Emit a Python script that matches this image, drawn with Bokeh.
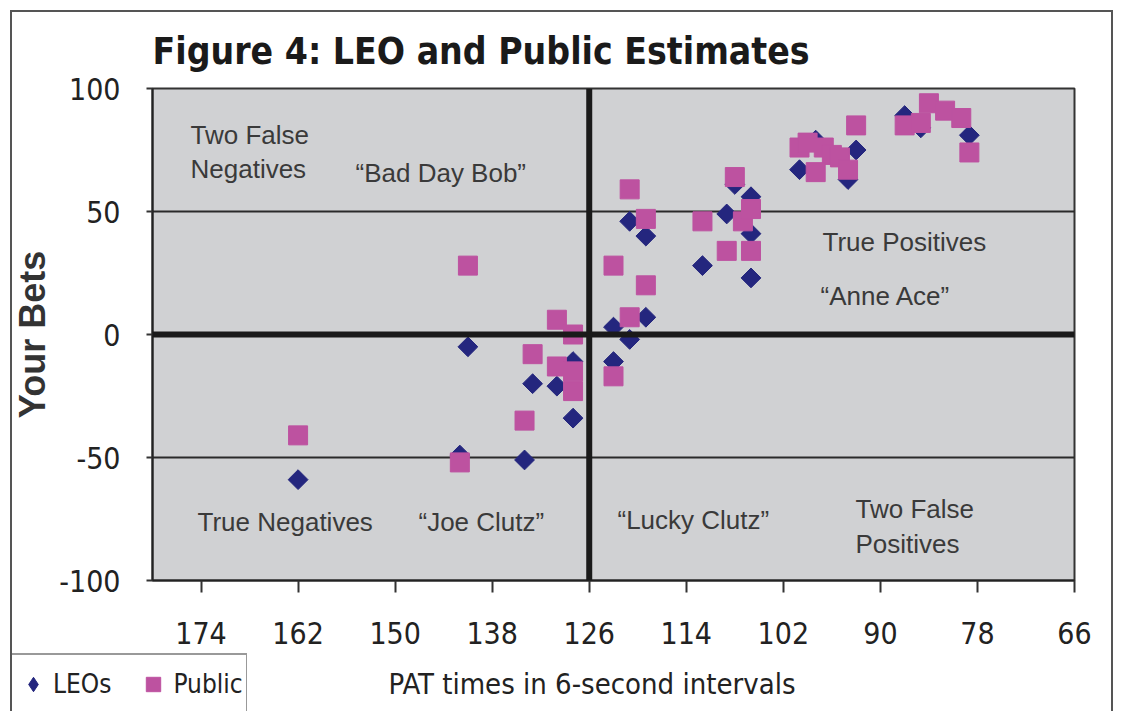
import math
from bokeh.plotting import figure
from bokeh.layouts import column, row
from bokeh.models import (Range1d, FixedTicker, Span, Label, Legend, LegendItem,
                          PrintfTickFormatter)
from bokeh.embed import file_html
from bokeh.resources import INLINE

# ---------------- data ----------------
leo_x = [162, 141, 142, 134, 133, 130, 128, 128, 123, 123, 121, 119, 121, 119,
         112, 109, 108, 106, 106, 106, 100, 98, 94, 93, 87, 85, 79]
leo_y = [-59, -5, -49, -51, -20, -21, -11, -34, 3, -11, -2, 7, 46, 40,
         28, 49, 61, 56, 41, 23, 67, 79, 63, 75, 89, 84, 81]

pub_x = [162, 141, 142, 134, 133, 130, 130, 128, 128, 128, 123, 123, 121, 121,
         119, 119, 112, 109, 108, 107, 106, 106, 100, 99, 97, 96, 98, 95, 94,
         93, 87, 85, 84, 82, 80, 79]
pub_y = [-41, 28, -52, -35, -8, 6, -13, 0, -15, -23, -17, 28, 7, 59,
         20, 47, 46, 34, 64, 46, 51, 34, 76, 78, 76, 73, 66, 72, 67,
         85, 85, 86, 94, 91, 88, 74]

x_ticks = [174, 162, 150, 138, 126, 114, 102, 90, 78, 66]
y_ticks = [-100, -50, 0, 50, 100]
x_limits = (180, 66)
y_limits = (-100, 100)
divider_x = 126
divider_y = 0

title_text = "Figure 4: LEO and Public Estimates"
x_label = "PAT times in 6-second intervals"
y_label = "Your Bets"
series_names = ["LEOs", "Public"]

NAVY = "#24267E"
PINK = "#BD52A0"
COND = "DejaVu Sans Condensed"
SANS = "Liberation Sans"

# page geometry
PAGE_W, PAGE_H = 1123, 711
FRAME_L, FRAME_R, FRAME_T, FRAME_B = 152, 1074, 88, 580
MAIN_H = 653
LEG_W = 247

p = figure(width=PAGE_W, height=MAIN_H, output_backend="svg", toolbar_location=None,
           x_range=Range1d(*x_limits), y_range=Range1d(*y_limits),
           min_border_left=FRAME_L, min_border_right=PAGE_W - FRAME_R,
           min_border_top=FRAME_T, min_border_bottom=MAIN_H - FRAME_B)

p.background_fill_color = "#D0D1D3"
p.border_fill_color = "white"
p.outline_line_color = "#333333"
p.outline_line_width = 2

# title
p.title.text = title_text
p.title.text_font = COND
p.title.text_font_style = "bold"
p.title.text_font_size = "37px"
p.title.text_color = "#1a1a1a"
p.title.align = "left"
p.title.standoff = 31

# axes
p.xaxis.ticker = FixedTicker(ticks=x_ticks)
p.yaxis.ticker = FixedTicker(ticks=y_ticks)
p.yaxis.formatter = PrintfTickFormatter(format="%d")
for ax in (p.xaxis, p.yaxis):
    ax.axis_line_color = "#222222"
    ax.axis_line_width = 2
    ax.major_tick_line_color = "#333333"
    ax.major_tick_line_width = 2
    ax.major_tick_in = 0
    ax.minor_tick_line_color = None
    ax.major_label_text_font = COND
    ax.major_label_text_font_size = "30px"
    ax.major_label_text_color = "#222222"
p.xaxis.major_tick_out = 12
p.xaxis.major_label_standoff = 29
p.yaxis.major_tick_out = 6
p.yaxis.major_label_standoff = 26
p.yaxis.axis_label = y_label
p.yaxis.axis_label_text_font = SANS
p.yaxis.axis_label_text_font_style = "bold"
p.yaxis.axis_label_text_font_size = "36px"
p.yaxis.axis_label_text_color = "#333333"
p.yaxis.axis_label_standoff = 3

# grid
p.xgrid.grid_line_color = None
p.ygrid.ticker = FixedTicker(ticks=[-50, 50])
p.ygrid.grid_line_color = "#2a2a2a"
p.ygrid.grid_line_width = 2

p.add_layout(Span(location=divider_y, dimension="width", line_color="#1a1a1a", line_width=6))
p.add_layout(Span(location=divider_x, dimension="height", line_color="#1a1a1a", line_width=6))

# points
p.scatter(leo_x, leo_y, marker="square", angle=math.pi / 4, size=14,
          fill_color=NAVY, line_color=NAVY)
p.scatter(pub_x, pub_y, marker="square", size=19, fill_color=PINK, line_color=PINK)

def px2x(px):
    return x_limits[0] + (px - FRAME_L) * (x_limits[1] - x_limits[0]) / (FRAME_R - FRAME_L)
def py2y(py):
    return y_limits[1] - (py - FRAME_T) * (y_limits[1] - y_limits[0]) / (FRAME_B - FRAME_T)

def lab(text, px, py):
    p.add_layout(Label(x=px2x(px), y=py2y(py), text=text, text_font=SANS,
                       text_font_size="26px", text_color="#3a3a3a",
                       text_align="left", text_baseline="middle"))

# quadrant annotations
lab("Two False", 190, 134)
lab("Negatives", 190, 168)
lab("\u201cBad Day Bob\u201d", 355, 172)
lab("True Positives", 822, 241)
lab("\u201cAnne Ace\u201d", 820, 295)
lab("True Negatives", 197, 521)
lab("\u201cJoe Clutz\u201d", 418, 521)
lab("\u201cLucky Clutz\u201d", 617, 519)
lab("Two False", 855, 508)
lab("Positives", 855, 543)

# ---------- legend strip (bottom left) ----------
BOT_H = PAGE_H - MAIN_H
lg = figure(width=LEG_W, height=BOT_H, output_backend="svg", toolbar_location=None,
            x_range=Range1d(0, 1), y_range=Range1d(0, 1),
            x_axis_type=None, y_axis_type=None,
            min_border_left=0, min_border_right=0, min_border_top=0, min_border_bottom=0)
lg.outline_line_color = None
lg.grid.grid_line_color = None
# legend-only renderers: their single point lies outside the strip's ranges
rl = lg.scatter([5], [5], marker="diamond", fill_color=NAVY, line_color=NAVY)
rp = lg.scatter([5], [5], marker="square", fill_color=PINK, line_color=PINK)
legend = Legend(items=[LegendItem(label=series_names[0], renderers=[rl]),
                       LegendItem(label=series_names[1], renderers=[rp])],
                orientation="horizontal", location=(10, -4),
                label_text_font=COND, label_text_font_size="26px",
                label_text_color="#222222", glyph_width=36, glyph_height=52,
                label_standoff=2, spacing=24, padding=3, margin=0,
                border_line_color="#333333", border_line_width=2,
                background_fill_color="white", background_fill_alpha=1.0)
lg.add_layout(legend)

# ---------- x axis title strip ----------
xl_w = PAGE_W - LEG_W
xl = figure(width=xl_w, height=BOT_H, output_backend="svg", toolbar_location=None,
            x_range=Range1d(0, xl_w), y_range=Range1d(0, BOT_H),
            x_axis_type=None, y_axis_type=None,
            min_border_left=0, min_border_right=0, min_border_top=0, min_border_bottom=0)
xl.outline_line_color = None
xl.grid.grid_line_color = None
xl.add_layout(Label(x=388 - LEG_W, y=BOT_H - 30, text=x_label, text_font=COND,
                    text_font_size="29px", text_color="#222222",
                    text_align="left", text_baseline="middle"))

frame_css = (":host::after { content: ''; position: absolute; left: 10px; top: 10px; "
             "right: 10px; bottom: 0; border: 2px solid #555555; border-bottom: none; "
             "pointer-events: none; z-index: 100; }")
layout = column(p, row(lg, xl), stylesheets=[frame_css])

open("out.html", "w").write(file_html(layout, INLINE))
